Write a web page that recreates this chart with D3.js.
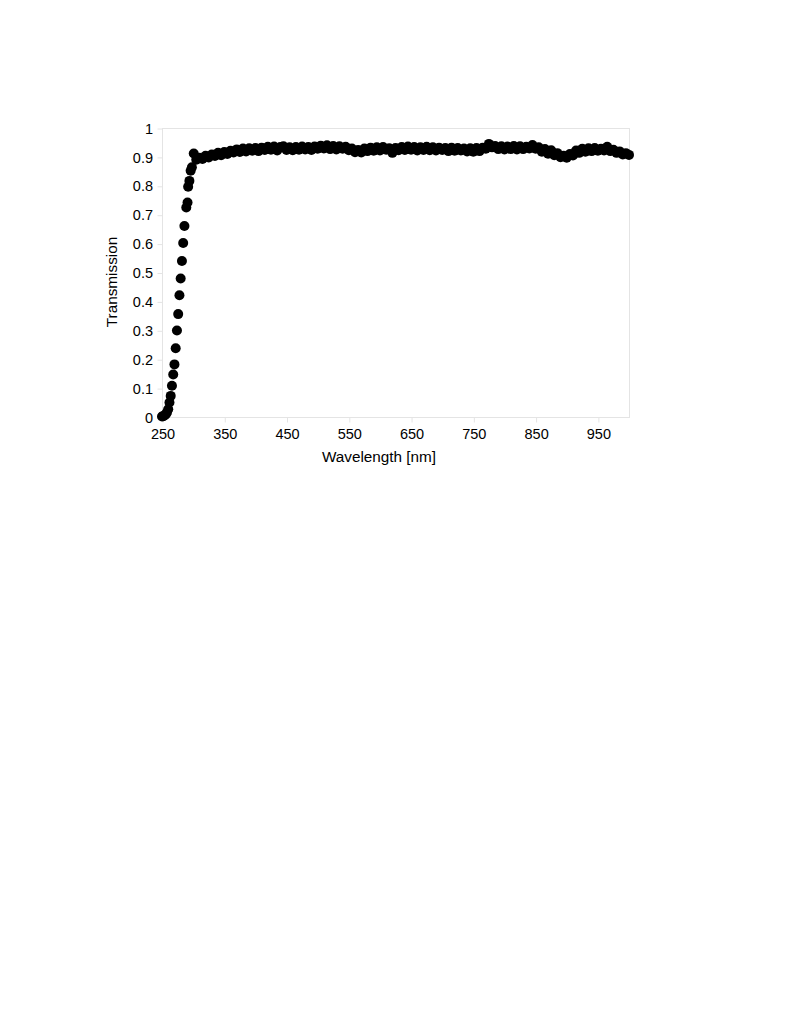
<!DOCTYPE html>
<html>
<head>
<meta charset="utf-8">
<script src="https://cdn.jsdelivr.net/npm/d3@7"></script>
<style>
  body { margin: 0; background: #fff; }
  svg text { font-family: "Liberation Sans", Arial, sans-serif; fill: #000; }
</style>
</head>
<body>
<svg id="chart" width="798" height="1032"></svg>
<script>
// absorption edge
const edgeWavelength = [250, 252, 254, 256, 258, 260, 262, 264, 266, 268, 270, 272, 274, 276, 278, 280,
  282, 284, 286, 289, 291, 292, 294, 296, 298, 301];
const edgeTransmission = [0.002, 0.003, 0.005, 0.009, 0.016, 0.027, 0.050, 0.073, 0.108, 0.147, 0.182, 0.238,
  0.299, 0.356, 0.421, 0.479, 0.540, 0.602, 0.661, 0.725, 0.742, 0.797, 0.817, 0.852, 0.864, 0.912];

// plateau, 5 nm steps
const plateauWavelength = [305, 310, 315, 320, 325, 330, 335, 340, 345, 350, 355, 360, 365, 370, 375, 380,
  385, 390, 395, 400, 405, 410, 415, 420, 425, 430, 435, 440, 445, 450, 455, 460, 465, 470, 475, 480,
  485, 490, 495, 500, 505, 510, 515, 520, 525, 530, 535, 540, 545, 550, 555, 560, 565, 570, 575, 580,
  585, 590, 595, 600, 605, 610, 615, 620, 625, 630, 635, 640, 645, 650, 655, 660, 665, 670, 675, 680,
  685, 690, 695, 700, 705, 710, 715, 720, 725, 730, 735, 740, 745, 750, 755, 760, 765, 770, 775, 780,
  785, 790, 795, 800, 805, 810, 815, 820, 825, 830, 835, 840, 845, 850, 855, 860, 865, 870, 875, 880,
  885, 890, 895, 900, 905, 910, 915, 920, 925, 930, 935, 940, 945, 950, 955, 960, 965, 970, 975, 980,
  985, 990, 995, 1000];
const plateauTransmission = [
  0.890, 0.897, 0.893, 0.904, 0.898, 0.908, 0.903, 0.914, 0.906, 0.917, 0.910, 0.921, 0.915, 0.926, 0.917, 0.929,
  0.919, 0.930, 0.921, 0.931, 0.920, 0.932, 0.924, 0.935, 0.925, 0.936, 0.922, 0.934, 0.937, 0.924, 0.933, 0.923,
  0.934, 0.925, 0.936, 0.926, 0.934, 0.924, 0.936, 0.928, 0.939, 0.929, 0.940, 0.927, 0.938, 0.926, 0.937, 0.928,
  0.935, 0.923, 0.929, 0.916, 0.924, 0.915, 0.929, 0.920, 0.932, 0.921, 0.933, 0.922, 0.934, 0.925, 0.930, 0.914,
  0.931, 0.923, 0.934, 0.924, 0.936, 0.925, 0.934, 0.922, 0.933, 0.924, 0.935, 0.923, 0.933, 0.922, 0.932, 0.924,
  0.931, 0.920, 0.932, 0.921, 0.931, 0.922, 0.929, 0.919, 0.930, 0.918, 0.931, 0.920, 0.932, 0.928, 0.945, 0.933,
  0.938, 0.927, 0.937, 0.926, 0.936, 0.927, 0.938, 0.926, 0.937, 0.927, 0.935, 0.929, 0.941, 0.928, 0.933, 0.918,
  0.927, 0.911, 0.923, 0.906, 0.913, 0.899, 0.904, 0.897, 0.910, 0.905, 0.922, 0.914, 0.928, 0.918, 0.930, 0.920,
  0.931, 0.921, 0.928, 0.922, 0.935, 0.920, 0.925, 0.914, 0.919, 0.908, 0.913, 0.907];

const xTicks = [250, 350, 450, 550, 650, 750, 850, 950];
const yTicks = [0, 0.1, 0.2, 0.3, 0.4, 0.5, 0.6, 0.7, 0.8, 0.9, 1];

const data = edgeWavelength.map((w, i) => ({ w: w, t: edgeTransmission[i] }))
  .concat(plateauWavelength.map((w, i) => ({ w: w, t: plateauTransmission[i] })));

const svg = d3.select("#chart");
const plot = { left: 162, right: 629, top: 128, bottom: 417 };

const x = d3.scaleLinear().domain([250, 1000]).range([plot.left, plot.right]);
const y = d3.scaleLinear().domain([0, 1]).range([plot.bottom, plot.top]);

// frame
svg.append("rect")
  .attr("x", plot.left + 0.5).attr("y", plot.top + 0.5)
  .attr("width", plot.right - plot.left).attr("height", plot.bottom - plot.top)
  .attr("fill", "none").attr("stroke", "#e4e4e4");

// Y axis
const yAxis = svg.append("g")
  .attr("transform", `translate(${plot.left + 0.5},0.5)`)
  .call(d3.axisLeft(y).tickValues(yTicks).tickSize(5).tickPadding(4.5).tickFormat(d3.format("~g")));
yAxis.select(".domain").remove();
yAxis.selectAll("line").attr("stroke", "#e4e4e4");
yAxis.selectAll("text").style("font-size", "14.5px");

// X axis
const xAxis = svg.append("g")
  .attr("transform", `translate(0.5,${plot.bottom + 0.5})`)
  .call(d3.axisBottom(x).tickValues(xTicks).tickSize(5).tickPadding(6.5).tickFormat(d3.format("d")));
xAxis.select(".domain").remove();
xAxis.selectAll("line").attr("stroke", "#e4e4e4");
xAxis.selectAll("text").style("font-size", "14.5px");

// titles
svg.append("text")
  .attr("x", 379).attr("y", 462)
  .attr("text-anchor", "middle")
  .style("font-size", "15.3px")
  .text("Wavelength [nm]");

svg.append("text")
  .attr("transform", "translate(116.5,282) rotate(-90)")
  .attr("text-anchor", "middle")
  .style("font-size", "15.3px")
  .text("Transmission");

// points
svg.append("g")
  .selectAll("circle")
  .data(data)
  .enter()
  .append("circle")
  .attr("cx", d => x(d.w))
  .attr("cy", d => y(d.t))
  .attr("r", 5)
  .style("fill", "#000");
</script>
</body>
</html>
